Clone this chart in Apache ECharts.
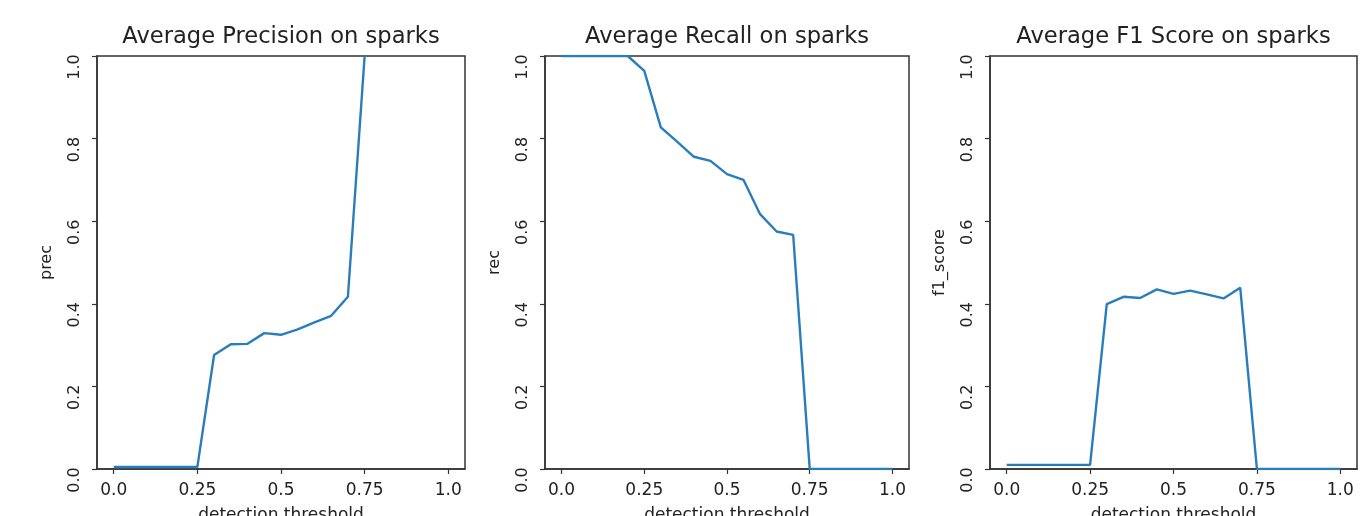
<!DOCTYPE html>
<html>
<head>
<meta charset="utf-8">
<script src="https://cdn.jsdelivr.net/npm/echarts@6/dist/echarts.min.js"></script>
<style>
html,body{margin:0;padding:0;background:#fff;}
#chart{width:1366px;height:516px;}
</style>
</head>
<body>
<div id="chart"></div>
<script>
// ---- data ----
const thresholds = [0, 0.05, 0.1, 0.15, 0.2, 0.25, 0.3, 0.35, 0.4, 0.45, 0.5, 0.55, 0.6, 0.65, 0.7, 0.75, 0.8, 0.85, 0.9, 0.95, 1.0];
const precision = [0.005, 0.005, 0.005, 0.005, 0.005, 0.005, 0.276, 0.302, 0.303, 0.329, 0.325, 0.338, 0.355, 0.371, 0.417, 1.0, null, null, null, null, null];
const recall = [1, 1, 1, 1, 1, 0.964, 0.827, 0.792, 0.756, 0.746, 0.714, 0.70, 0.617, 0.575, 0.567, 0, 0, 0, 0, 0, 0];
const f1Score = [0.01, 0.01, 0.01, 0.01, 0.01, 0.01, 0.399, 0.417, 0.414, 0.435, 0.424, 0.432, 0.423, 0.413, 0.439, 0, 0, 0, 0, 0, 0];
const xTickValues = [0, 0.25, 0.5, 0.75, 1.0];
const xTickLabels = ["0.0", "0.25", "0.5", "0.75", "1.0"];
const titles = ["Average Precision on sparks", "Average Recall on sparks", "Average F1 Score on sparks"];
const yNames = ["prec", "rec", "f1_score"];
const xName = "detection threshold";
const seriesData = [precision, recall, f1Score];

// ---- layout ----
const grids = [
  {left: 97, width: 368},
  {left: 545, width: 364},
  {left: 990, width: 367}
];
const TOP = 56, HEIGHT = 413;
const FONT = "DejaVu Sans";
const TXT = "#222";
const AX = "#333";
const LINE = "#2a7dbd";

const option = {
  animation: false,
  backgroundColor: "#fff",
  title: grids.map((g, i) => ({
    text: titles[i],
    left: g.left + g.width / 2 - 5,
    textAlign: "center",
    top: 21,
    textStyle: {fontFamily: FONT, fontSize: 22.6, fontWeight: "normal", color: TXT}
  })),
  grid: grids.map(g => ({
    left: g.left, width: g.width, top: TOP, height: HEIGHT,
    outerBoundsMode: "none", containLabel: false,
    show: true, borderColor: AX, borderWidth: 1.5, backgroundColor: "#fff"
  })),
  xAxis: grids.map((g, i) => ({
    type: "value", gridIndex: i, min: -0.05, max: 1.05,
    name: xName, nameLocation: "middle", nameGap: 38,
    nameTextStyle: {fontFamily: FONT, fontSize: 17, color: TXT},
    axisLine: {show: true, onZero: false, lineStyle: {color: AX, width: 1.5}},
    axisTick: {show: true, length: 5, lineStyle: {color: AX, width: 1.2}, customValues: xTickValues},
    axisLabel: {
      customValues: xTickValues,
      formatter: v => { const k = xTickValues.findIndex(t => Math.abs(t - v) < 1e-9); return k >= 0 ? xTickLabels[k] : ""; },
      fontFamily: FONT, fontSize: 17, color: TXT, margin: 13
    },
    splitLine: {show: false}
  })),
  yAxis: grids.map((g, i) => ({
    type: "value", gridIndex: i, min: 0, max: 1, interval: 0.2,
    name: yNames[i], nameLocation: "middle", nameGap: 42, nameRotate: 90,
    nameTextStyle: {fontFamily: FONT, fontSize: 16, color: TXT},
    axisLine: {show: true, onZero: false, lineStyle: {color: AX, width: 1.5}},
    axisTick: {show: true, length: 5, lineStyle: {color: AX, width: 1.2}},
    axisLabel: {
      rotate: 90, formatter: v => v.toFixed(1),
      align: "center", padding: [0, 22, 0, 0],
      fontFamily: FONT, fontSize: 16, color: TXT, margin: 14
    },
    splitLine: {show: false}
  })),
  series: seriesData.map((d, i) => ({
    type: "line", xAxisIndex: i, yAxisIndex: i,
    data: thresholds.map((t, k) => [t, d[k]]),
    showSymbol: false, connectNulls: false, clip: true,
    lineStyle: {color: LINE, width: 2.4},
    itemStyle: {color: LINE}
  }))
};

const chart = echarts.init(document.getElementById("chart"), null, {renderer: "canvas"});
chart.setOption(option);
</script>
</body>
</html>
